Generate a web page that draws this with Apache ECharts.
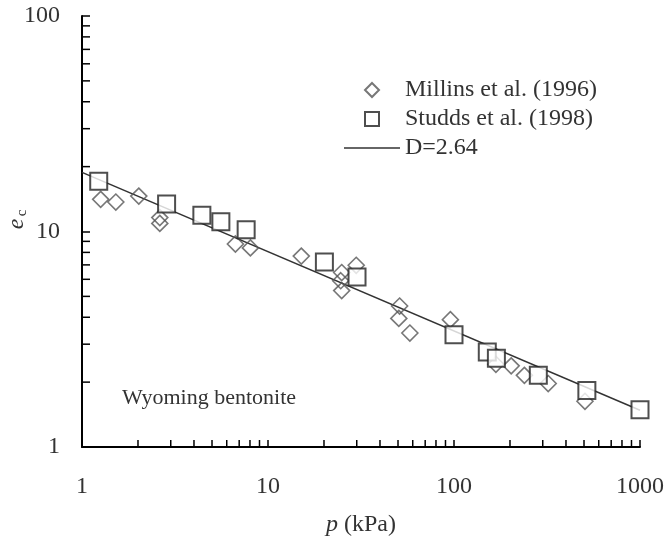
<!DOCTYPE html>
<html><head><meta charset="utf-8">
<script src="https://cdn.jsdelivr.net/npm/echarts@6/dist/echarts.min.js"></script>
<style>html,body{margin:0;padding:0;background:#fff}#c{width:667px;height:542px}</style>
</head><body><div id="c"></div>
<script>
// Millins et al. (1996)
const millinsP = [1.26, 1.52, 2.02, 2.62, 2.62, 6.68, 8.04, 15.1, 24.9, 24.6, 24.9, 29.8, 51.0, 50.5, 57.9, 95.6, 168, 203, 239, 321, 506];
const millinsE = [14.1, 13.7, 14.6, 11.6, 10.9, 8.75, 8.39, 7.69, 6.45, 5.91, 5.32, 6.97, 4.51, 3.95, 3.38, 3.90, 2.42, 2.38, 2.15, 1.97, 1.63];
// Studds et al. (1998)
const studdsP = [1.23, 2.85, 4.41, 5.58, 7.63, 20.1, 30.1, 100, 151, 169, 284, 518, 1000];
const studdsE = [17.1, 13.4, 11.9, 11.1, 10.2, 7.22, 6.15, 3.32, 2.76, 2.58, 2.15, 1.83, 1.49];
// fitted line D=2.64 (end points)
const fitP = [1, 1000];
const fitE = [18.8, 1.48];
// minor tick positions
const xMinorTicks = [2,3,4,5,6,7,8,9,20,30,40,50,60,70,80,90,200,300,400,500,600,700,800,900];
const yMinorTicks = [2,3,4,5,6,7,8,9,20,30,40,50,60,70,80,90];
const names = ['Millins et al. (1996)', 'Studds et al. (1998)', 'D=2.64'];

const FONT = '"Liberation Serif", "Times New Roman", serif';
const TXT = '#333';

const zip = (a, b) => a.map((v, i) => [v, b[i]]);

const chart = echarts.init(document.getElementById('c'), null, {renderer: 'canvas'});
chart.setOption({
  animation: false,
  backgroundColor: '#fff',
  grid: {left: 82, right: 25, top: 16, bottom: 88, containLabel: false},
  xAxis: {
    type: 'log', logBase: 10, min: 1, max: 1000,
    name: '{i|p} (kPa)', nameLocation: 'middle', nameGap: 66,
    nameTextStyle: {fontFamily: FONT, fontSize: 24, color: TXT, rich: {i: {fontFamily: FONT, fontSize: 24, fontStyle: 'italic', color: TXT}}},
    axisLine: {lineStyle: {color: '#000', width: 2}},
    axisTick: {inside: true, length: 7, lineStyle: {color: '#000', width: 1.5}},
    axisLabel: {fontFamily: FONT, fontSize: 24, color: TXT, margin: 28, formatter: v => String(Math.round(v))},
    splitLine: {show: false}, minorTick: {show: false}
  },
  yAxis: {
    type: 'log', logBase: 10, min: 1, max: 100,
    axisLine: {lineStyle: {color: '#000', width: 2}},
    axisTick: {inside: true, length: 8, lineStyle: {color: '#000', width: 1.5}},
    axisLabel: {fontFamily: FONT, fontSize: 24, color: TXT, margin: 22, formatter: v => String(Math.round(v))},
    splitLine: {show: false}
  },
  legend: {
    data: [
      {name: names[0], icon: 'path://M7,0L14,7L7,14L0,7Z'},
      {name: names[1], icon: 'path://M0,0H14V14H0Z'},
      {name: names[2], icon: 'path://M0,0H56V1.5H0Z', itemStyle: {color: '#333', borderWidth: 0}}
    ],
    orient: 'vertical', left: 339, top: 73, padding: 5,
    itemWidth: 56, itemHeight: 14, itemGap: 5, symbolKeepAspect: true,
    textStyle: {fontFamily: FONT, fontSize: 24, color: TXT, lineHeight: 24},
    selectedMode: false
  },
  graphic: [
    {type: 'text', left: 122, top: 387, style: {text: 'Wyoming bentonite', font: '22px ' + FONT, fill: TXT}},
    {type: 'group', x: 17, y: 220, rotation: Math.PI / 2, children: [
      {type: 'text', x: -4, y: 0, style: {text: 'e', font: 'italic 24px ' + FONT, fill: TXT, align: 'center', verticalAlign: 'middle'}},
      {type: 'text', x: 7, y: 5, style: {text: 'c', font: '15px ' + FONT, fill: TXT, align: 'center', verticalAlign: 'middle'}}
    ]}
  ],
  series: [
    {
      name: 'D=2.64', type: 'line', data: zip(fitP, fitE), symbol: 'none', z: 1,
      lineStyle: {color: '#333', width: 1.5}, itemStyle: {color: '#333'}
    },
    {
      name: names[0], type: 'scatter', data: zip(millinsP, millinsE), symbol: 'diamond', symbolSize: 16, z: 2,
      itemStyle: {color: 'rgba(255,255,255,0)', borderColor: '#555', borderWidth: 1.6}
    },
    {
      name: names[1], type: 'scatter', data: zip(studdsP, studdsE), symbol: 'rect', symbolSize: 17, z: 3,
      itemStyle: {color: '#fff', borderColor: '#222', borderWidth: 2}
    },
    {
      name: 'xminor', type: 'custom', silent: true, z: 4, clip: false,
      data: xMinorTicks.map(v => [v, 1]),
      renderItem: (params, api) => {
        const p = api.coord([api.value(0), api.value(1)]);
        return {type: 'line', shape: {x1: p[0], y1: p[1], x2: p[0], y2: p[1] - 7}, style: {stroke: '#000', lineWidth: 1.5}};
      }
    },
    {
      name: 'yminor', type: 'custom', silent: true, z: 4, clip: false,
      data: yMinorTicks.map(v => [1, v]),
      renderItem: (params, api) => {
        const p = api.coord([api.value(0), api.value(1)]);
        return {type: 'line', shape: {x1: p[0], y1: p[1], x2: p[0] + 8, y2: p[1]}, style: {stroke: '#000', lineWidth: 1.5}};
      }
    }
  ]
});
</script>
</body></html>
